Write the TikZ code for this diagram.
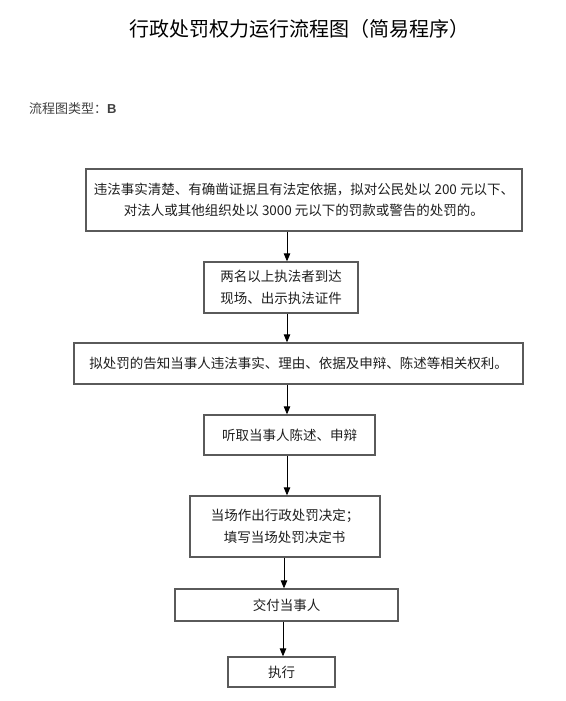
\documentclass[tikz,border=0pt]{standalone}
\usepackage{fontspec}
\usetikzlibrary{arrows.meta}
\newfontfamily\cjk{Noto Sans CJK SC}
\newfontfamily\latf{Liberation Sans}
\definecolor{boxline}{HTML}{5A5A5A}
\definecolor{txt}{HTML}{1E1E1E}
\begin{document}
\begin{tikzpicture}[x=1pt,y=-1pt,
  box/.style={draw=boxline, line width=1.3pt, inner sep=0pt, text=txt,
    font=\cjk\fontsize{13.5}{21.5}\selectfont, align=center},
  arr/.style={draw=black, line width=0.9pt, -{Triangle[length=8pt,width=6.5pt]}}]
\useasboundingbox (0,0) rectangle (565,701);
\node[font=\cjk\fontsize{20}{24}\selectfont, text=black] (title) at (299,29) {行政处罚权力运行流程图（简易程序）};
\node[anchor=west, font=\cjk\fontsize{13}{16}\selectfont, text=black!75, inner sep=0pt] (type) at (29,109) {流程图类型：{\latf\bfseries B}};
\node[box, minimum width=436pt, minimum height=62pt] (b1) at (304,200)
  {违法事实清楚、有确凿证据且有法定依据，拟对公民处以 200 元以下、\\对法人或其他组织处以 3000 元以下的罚款或警告的处罚的。};
\node[box, minimum width=154pt, minimum height=51pt] (b2) at (281,287.5)
  {两名以上执法者到达\\现场、出示执法证件};
\node[box, minimum width=449pt, minimum height=41pt] (b3) at (298.5,363.5)
  {拟处罚的告知当事人违法事实、理由、依据及申辩、陈述等相关权利。};
\node[box, minimum width=171pt, minimum height=40pt] (b4) at (289.5,435)
  {听取当事人陈述、申辩};
\node[box, minimum width=190pt, minimum height=61pt, align=left] (b5) at (285,526.5)
  {当场作出行政处罚决定；\\\hspace{13pt}填写当场处罚决定书};
\node[box, minimum width=223pt, minimum height=32pt] (b6) at (286.5,605)
  {交付当事人};
\node[box, minimum width=107pt, minimum height=30pt] (b7) at (281.5,672)
  {执行};
\draw[arr] (b1.south -| 287,0) -- (b2.north -| 287,0);
\draw[arr] (b2.south -| 287,0) -- (b3.north -| 287,0);
\draw[arr] (b3.south -| 287,0) -- (b4.north -| 287,0);
\draw[arr] (b4.south -| 287,0) -- (b5.north -| 287,0);
\draw[arr] (b5.south -| 284,0) -- (b6.north -| 284,0);
\draw[arr] (b6.south -| 283,0) -- (b7.north -| 283,0);
\end{tikzpicture}
\end{document}
